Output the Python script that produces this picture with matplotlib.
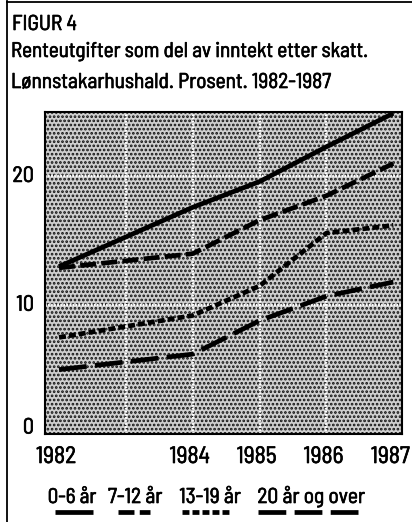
import math
import matplotlib
matplotlib.use("Agg")
import matplotlib.pyplot as plt
from matplotlib.lines import Line2D
from matplotlib.patches import Rectangle
from matplotlib import font_manager as fm
from matplotlib.textpath import TextPath
from matplotlib.font_manager import FontProperties
from matplotlib.transforms import ScaledTranslation, blended_transform_factory
import matplotlib.patheffects as pe

years = [1982, 1984, 1985, 1986, 1987]
year_labels = ["1982", "1984", "1985", "1986", "1987"]
series_names = ["0-6 år", "7-12 år", "13-19 år", "20 år og over"]
s_0_6 = [13.0, 17.6, 19.6, 22.3, 24.9]
s_7_12 = [12.9, 14.0, 16.6, 18.5, 21.0]
s_13_19 = [7.5, 9.2, 11.5, 15.6, 16.2]
s_20 = [5.0, 6.2, 8.8, 10.7, 11.8]
yticks = [0, 10, 20]
fig_label = "FIGUR 4"
title1 = "Renteutgifter som del av inntekt etter skatt."
title2 = "Lønnstakarhushald. Prosent. 1982-1987"

styles = ['-', (0, (11.5, 3.8)), (0, (5.0, 2.2)), (0, (20, 6))]
all_series = [s_0_6, s_7_12, s_13_19, s_20]

# ---- font choice: a Helvetica-like condensed face that matches the proportions
available = set(f.name for f in fm.fontManager.ttflist)
cands = ['Liberation Sans Narrow', 'Arial Narrow', 'Nimbus Sans Narrow', 'Roboto Condensed',
         'Archivo Narrow', 'PT Sans Narrow', 'Fira Sans Condensed', 'IBM Plex Sans Condensed',
         'Barlow Semi Condensed', 'Sofia Sans Semi Condensed', 'Roboto', 'Liberation Sans']
cands = [c for c in cands if c in available] or ['DejaVu Sans']


def ext(fp, s):
    e = TextPath((0, 0), s, size=100, prop=fp).get_extents()
    return e.width / 100.0, e.height / 100.0


def score(name):
    fp = FontProperties(family=name)
    cap = ext(fp, "H")[1]
    tw = ext(fp, title1)[0]
    dw = ext(fp, "1982")[0]
    return abs(math.log((tw / cap) / (355 / 15.0))) + abs(math.log((dw / cap) / (38 / 16.0)))


FONT = min(cands, key=score)
plt.rcParams['font.family'] = [FONT, 'DejaVu Sans']
plt.rcParams['lines.scale_dashes'] = False
plt.rcParams['hatch.linewidth'] = 1.3
FP = FontProperties(family=FONT)
CAP = ext(FP, "H")[1]

W, H = 412, 522
fig = plt.figure(figsize=(W / 100, H / 100), dpi=100)
effects = [pe.withStroke(linewidth=0.5, foreground='black')]


def size_for(s, cap_px, width_px):
    w = ext(FP, s)[0]
    px = min(cap_px / CAP, width_px / w)
    return px * 72.0 / 100.0


def ftext(x, y, s, cap_px, width_px, **kw):
    return fig.text(x / W, 1 - y / H, s, va='baseline', fontsize=size_for(s, cap_px, width_px),
                    path_effects=effects, **kw)


# frame lines (left and top)
fig.add_artist(Line2D([7 / W, 7 / W], [0, 1 - 1 / H], color='black', lw=1.3, transform=fig.transFigure))
fig.add_artist(Line2D([7 / W, 1], [1 - 1.5 / H, 1 - 1.5 / H], color='black', lw=1.3, transform=fig.transFigure))

ax = fig.add_axes([45 / W, 1 - 434 / H, 357 / W, 322 / H])
ax.set_xlim(1981.79, 1987.13)
ax.set_ylim(0, 25)
ax.set_facecolor('white')
bg = Rectangle((0, 0), 1, 1, transform=ax.transAxes, facecolor='#cfcfcf',
               edgecolor='#111111', hatch='....', lw=0, zorder=0)
ax.add_patch(bg)

for x in [1983, 1984, 1985, 1986]:
    ax.axvline(x, color='white', lw=1.7, ls=(0, (1.2, 1.0)), zorder=1)
for y in [10, 20]:
    ax.axhline(y, color='white', lw=1.7, ls=(0, (1.2, 1.0)), zorder=1)

for vals, st in zip(all_series, styles):
    ax.plot(years, vals, color='black', lw=3.4, ls=st, zorder=3,
            solid_capstyle='butt', dash_capstyle='butt')

for s in ax.spines.values():
    s.set_linewidth(1.5)
ax.set_xticks(years)
ax.set_xticklabels([])
ax.set_yticks(yticks)
ax.set_yticklabels([])
ax.tick_params(length=0)

# year labels (slightly left of the data positions, as in the original)
xtr = blended_transform_factory(ax.transData, fig.transFigure) + ScaledTranslation(-3 / 100, 0, fig.dpi_scale_trans)
for yr, lab in zip(years, year_labels):
    ax.text(yr, 1 - 463 / H, lab, transform=xtr, ha='center', va='baseline',
            fontsize=size_for(lab, 16.5, 39), path_effects=effects)

# y labels
ytr = blended_transform_factory(fig.transFigure, ax.transData)
for v in yticks:
    dy = 6 / 100 if v == 0 else 0
    lab = str(v)
    ax.text(34 / W, v, lab, ha='right', va='center',
            transform=ytr + ScaledTranslation(0, dy, fig.dpi_scale_trans),
            fontsize=size_for("20", 16.5, 19), path_effects=effects)

ftext(12, 30, fig_label, 15, 77, ha='left')
ftext(11, 57, title1, 15, 354, ha='left')
ftext(11, 88, title2, 15, 318, ha='left')

label_x = [72, 135, 210, 311]
label_w = [47, 60, 70, 107]
sample_x = [(55, 93), (118, 150), (182, 230), (258, 362)]
for name, lx, lw_, (x0, x1), st in zip(series_names, label_x, label_w, sample_x, styles):
    ftext(lx, 503, name, 15, lw_, ha='center')
    fig.add_artist(Line2D([x0 / W, x1 / W], [1 - 512 / H, 1 - 512 / H], color='black', lw=3.4,
                          ls=st, transform=fig.transFigure, solid_capstyle='butt', dash_capstyle='butt'))

fig.savefig("out.png", dpi=100)
